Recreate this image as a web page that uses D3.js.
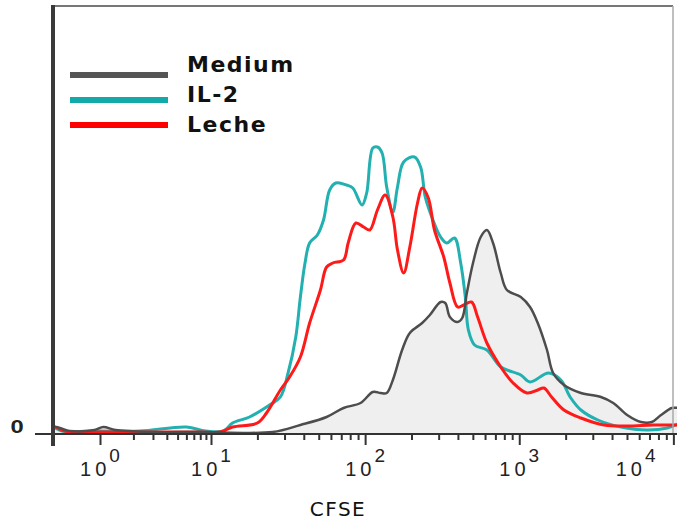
<!doctype html>
<html>
<head>
<meta charset="utf-8"/>
<style>
  html, body { margin: 0; padding: 0; background: #fff; }
  svg { display: block; }
  .tick-label { font-family: "Liberation Sans", Arial, sans-serif; fill: #222; }
  .axis-title { font-family: "DejaVu Sans", sans-serif; fill: #111; }
  .legend-text { font-family: "DejaVu Sans", sans-serif; font-weight: bold; font-size: 22px; letter-spacing: 1.5px; fill: #111; }
</style>
<script src="https://d3js.org/d3.v7.min.js"></script>
</head>
<body>
<svg id="chart" width="677" height="523"></svg>
<script>
// CFSE histograms: x = log10(CFSE), y = cell count (relative)
var mediumLog = [-0.42,-0.41,-0.27,-0.05,0.03,0.14,0.45,0.9,1.4,1.58,1.75,1.86,1.97,2.05,2.1,2.14,2.18,2.24,2.29,2.37,2.42,2.49,2.52,2.55,2.6,2.63,2.66,2.7,2.75,2.79,2.83,2.88,2.92,3.01,3.07,3.12,3.18,3.22,3.29,3.4,3.53,3.61,3.7,3.79,3.86,3.92,3.99,4.03];
var mediumCount = [2,7,3,4,7,4,2,2,2,9,17,26,31,42,41,41,54,84,101,111,119,132,131,117,112,116,141,171,197,204,191,161,144,137,127,111,84,61,49,41,37,31,19,12,12,19,26,26];

var il2Log = [-0.42,-0.41,-0.34,0,0.36,0.78,0.95,1.08,1.14,1.25,1.38,1.45,1.5,1.55,1.58,1.61,1.64,1.69,1.73,1.77,1.81,1.88,1.92,1.98,2.01,2.05,2.08,2.11,2.14,2.18,2.21,2.25,2.32,2.36,2.39,2.44,2.49,2.53,2.58,2.62,2.65,2.67,2.71,2.79,2.88,3.01,3.07,3.19,3.27,3.33,3.4,3.51,3.66,3.83,3.96,4.03];
var il2Count = [3,6,3,3,3,7,3,3,11,17,29,37,61,97,137,171,191,199,214,244,251,249,246,229,241,286,287,281,247,222,247,272,277,267,237,214,197,191,196,171,137,104,89,84,67,59,52,61,54,37,24,14,7,4,6,10];

var lecheLog = [-0.42,-0.41,-0.32,0,0.45,0.9,1.06,1.14,1.3,1.36,1.45,1.51,1.58,1.64,1.71,1.75,1.79,1.86,1.89,1.94,1.99,2.03,2.08,2.13,2.18,2.21,2.25,2.29,2.34,2.37,2.41,2.45,2.51,2.55,2.6,2.64,2.69,2.73,2.79,2.88,2.96,3.05,3.12,3.16,3.21,3.29,3.4,3.55,3.7,3.87,4.03];
var lecheCount = [2,7,3,2,2,2,2,7,11,21,44,57,77,111,144,167,171,174,191,211,207,204,224,239,217,184,161,187,231,246,236,204,177,151,127,129,132,117,91,67,51,41,44,46,37,24,16,9,8,9,9];

var seriesNames = ["Medium", "IL-2", "Leche"];
var seriesColors = ["#4d4d4d", "#22b0b0", "#ff1a1a"];
var legendColors = ["#555555", "#12a9a9", "#ff0000"];
var majorTicks = [0, 1, 2, 3, 4];
var xTitle = "CFSE";
var yTickLabel = "0";

(function() {
  var svg = d3.select("#chart");
  var W = 677;
  var left = 53, right = 673, yTop = 6, base = 434;

  // flow-cytometry style axis: first decade compressed, then even decades
  var x = d3.scaleLinear().domain([-0.42, 0, 1, 4.03]).range([left, 100, 211, 678]);
  var y = d3.scaleLinear().domain([0, 428]).range([base, yTop]);

  function toPoints(lx, cy) { return lx.map(function(v, i) { return [v, cy[i]]; }); }
  var medium = toPoints(mediumLog, mediumCount);
  var il2 = toPoints(il2Log, il2Count);
  var leche = toPoints(lecheLog, lecheCount);

  var curve = d3.curveCatmullRom.alpha(0.5);
  var line = d3.line().x(function(d) { return x(d[0]); }).y(function(d) { return y(d[1]); }).curve(curve);
  var area = d3.area().x(function(d) { return x(d[0]); }).y0(base).y1(function(d) { return y(d[1]); }).curve(curve);

  svg.append("clipPath").attr("id", "clip").append("rect")
      .attr("x", left).attr("y", 0).attr("width", W - left).attr("height", base + 1);
  var g = svg.append("g").attr("clip-path", "url(#clip)");

  g.append("path").datum(medium).attr("d", area).attr("fill", "#efefef");
  g.append("path").datum(il2).attr("d", line).attr("fill", "none")
      .attr("stroke", seriesColors[1]).attr("stroke-width", 3).attr("stroke-linejoin", "round");
  g.append("path").datum(leche).attr("d", line).attr("fill", "none")
      .attr("stroke", seriesColors[2]).attr("stroke-width", 3).attr("stroke-linejoin", "round");
  g.append("path").datum(medium).attr("d", line).attr("fill", "none")
      .attr("stroke", seriesColors[0]).attr("stroke-width", 2.5).attr("stroke-linejoin", "round");

  // frame
  svg.append("line").attr("x1", left).attr("x2", right).attr("y1", yTop).attr("y2", yTop)
      .attr("stroke", "#777").attr("stroke-width", 2);
  svg.append("line").attr("x1", right).attr("x2", right).attr("y1", yTop).attr("y2", base)
      .attr("stroke", "#aaa").attr("stroke-width", 1.5);

  // minor ticks
  var minorTicks = [];
  [0, 1, 2, 3].forEach(function(d) {
    for (var k = 2; k <= 9; k++) minorTicks.push(d + Math.log10(k));
  });
  var minorAxis = d3.axisBottom(x).tickValues(minorTicks).tickSize(6).tickSizeOuter(0).tickFormat("");
  var majorAxis = d3.axisBottom(x).tickValues(majorTicks).tickSize(11).tickSizeOuter(0).tickFormat("");
  [minorAxis, majorAxis].forEach(function(ax) {
    var a = svg.append("g").attr("transform", "translate(0," + base + ")").call(ax);
    a.select(".domain").remove();
    a.selectAll(".tick line").attr("stroke", "#333").attr("stroke-width", 2);
  });

  // baseline and left axis
  svg.append("line").attr("x1", 35).attr("x2", W).attr("y1", base).attr("y2", base)
      .attr("stroke", "#333").attr("stroke-width", 2);
  svg.append("line").attr("x1", left).attr("x2", left).attr("y1", yTop - 1).attr("y2", base + 12)
      .attr("stroke", "#3a3a3a").attr("stroke-width", 4);

  svg.append("text").attr("class", "tick-label")
      .attr("x", 17).attr("y", base - 1).attr("text-anchor", "middle")
      .style("font-size", "19px").style("font-weight", "bold").attr("transform", "translate(17,0) scale(1.25,1) translate(-17,0)")
      .text(yTickLabel);

  // tick labels 10^n
  majorTicks.forEach(function(t) {
    var tx = svg.append("text").attr("class", "tick-label")
        .attr("x", x(t)).attr("y", base + 42).attr("text-anchor", "middle");
    tx.append("tspan").style("font-size", "20px").style("letter-spacing", "4px").text("10");
    tx.append("tspan").style("font-size", "19px").attr("dx", -1).attr("dy", -14).text(String(t));
    var w = tx.node().getComputedTextLength();
    if (x(t) + w / 2 > 656) tx.attr("x", 656 - w / 2);
  });

  svg.append("text").attr("class", "axis-title")
      .attr("x", 338).attr("y", 516).attr("text-anchor", "middle")
      .style("font-size", "20px").style("letter-spacing", "1.5px").text(xTitle);

  // legend
  var legend = svg.append("g");
  seriesNames.forEach(function(name, i) {
    legend.append("line").attr("x1", 70).attr("x2", 168)
        .attr("y1", 75 + i * 25).attr("y2", 75 + i * 25)
        .attr("stroke", legendColors[i]).attr("stroke-width", 6);
    legend.append("text").attr("class", "legend-text")
        .attr("x", 187).attr("y", 72 + i * 30).text(name);
  });
})();
</script>
</body>
</html>
